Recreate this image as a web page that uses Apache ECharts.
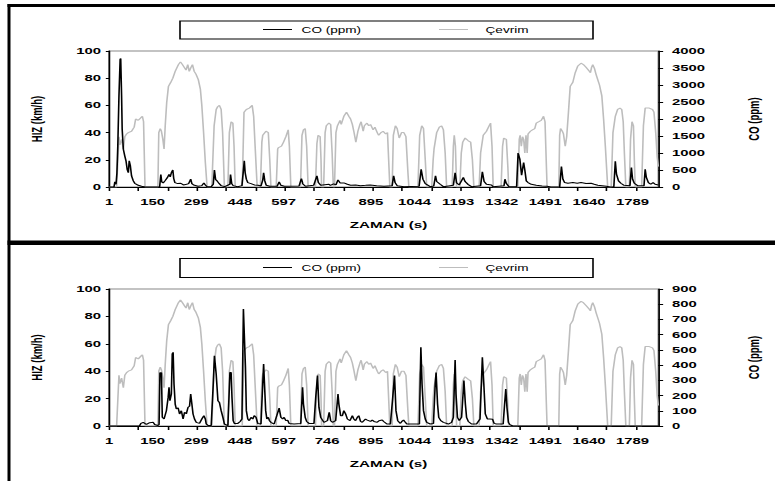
<!DOCTYPE html>
<html><head><meta charset="utf-8">
<script src="https://cdn.jsdelivr.net/npm/echarts@6/dist/echarts.min.js"></script>
<style>
html,body{margin:0;padding:0;background:#fff;overflow:hidden;}
#wrap{width:775px;height:481px;overflow:hidden;position:relative;background:#fff;}
#chart{width:485px;height:481px;transform:scaleX(1.597938);transform-origin:0 0;}
</style></head><body><div id="wrap"><div id="chart"></div></div>
<script>
// ---- data (time in s, values) ----
const xLabels = [1,150,299,448,597,746,895,1044,1193,1342,1491,1640,1789];
const speedLeftTicks = [0,20,40,60,80,100];
const coTopTicks = [0,500,1000,1500,2000,2500,3000,3500,4000];
const coBottomTicks = [0,100,200,300,400,500,600,700,800,900];

const speedCycle = [
[1,0],[27,0],[35,37],[38,31],[44,35],[50,28],[55,37],[61,39],[67,40],[78,41],[87,44],[92,50],[101,49],[110,51],[115,52],[119,48],[124,0],
[168,0],[171,40],[176,43],[180,41],[185,35],[189,28],[193,45],[198,62],[204,74],[212,77],[219,80],[227,85],[238,90],[245,92],[252,90],[258,88],[264,86],[270,90],[275,85],[281,88],[286,90],[292,85],[298,83],[306,79],[313,72],[318,60],[324,40],[330,18],[336,0],
[352,0],[360,45],[367,57],[372,59],[378,60],[384,57],[389,40],[395,0],
[407,0],[412,40],[418,48],[424,47],[428,30],[432,0],
[456,0],[462,55],[470,57],[480,58],[490,60],[495,52],[500,30],[507,0],
[518,0],[523,33],[526,38],[537,41],[545,40],[550,20],[554,0],
[572,0],[577,28],[580,29],[590,30],[597,33],[605,37],[613,42],[617,30],[622,0],
[655,0],[660,38],[665,42],[671,43],[676,30],[681,0],
[706,0],[711,32],[715,38],[722,37],[725,20],[727,0],
[734,0],[739,40],[743,45],[752,47],[758,46],[763,25],[767,0],
[771,0],[776,40],[781,45],[790,49],[794,46],[803,52],[812,55],[820,52],[826,50],[832,46],[837,41],[844,33],[851,41],[858,46],[862,48],[869,41],[873,45],[882,47],[888,45],[894,46],[903,42],[909,44],[917,40],[922,38],[930,40],[937,41],[946,39],[952,40],[956,20],[960,0],
[968,0],[972,38],[979,45],[985,43],[992,36],[1000,40],[1008,40],[1015,37],[1022,10],[1025,0],
[1056,0],[1062,38],[1069,45],[1075,43],[1081,20],[1086,0],
[1103,0],[1108,20],[1111,28],[1120,40],[1129,44],[1137,45],[1143,42],[1149,25],[1154,0],
[1173,0],[1177,30],[1180,38],[1184,30],[1188,0],
[1199,0],[1204,25],[1209,33],[1217,36],[1228,34],[1236,33],[1242,20],[1247,0],
[1265,0],[1270,25],[1279,38],[1290,41],[1299,45],[1304,47],[1309,30],[1313,0],
[1340,0],[1345,30],[1349,36],[1358,35],[1363,15],[1366,0],
[1397,0],[1402,35],[1405,38],[1409,30],[1413,37],[1417,35],[1421,25],[1425,38],[1429,25],[1432,39],[1440,41],[1447,42],[1455,43],[1460,47],[1469,48],[1477,49],[1485,52],[1490,48],[1494,20],[1497,0],
[1537,0],[1540,38],[1543,43],[1549,41],[1553,39],[1559,30],[1564,37],[1570,55],[1576,74],[1585,77],[1593,84],[1602,89],[1613,91],[1621,90],[1630,88],[1642,85],[1645,84],[1649,88],[1653,90],[1659,87],[1664,83],[1670,79],[1676,75],[1684,67],[1690,50],[1696,30],[1704,0],
[1716,0],[1722,40],[1730,52],[1738,57],[1746,58],[1752,57],[1757,48],[1761,25],[1766,0],
[1778,0],[1782,35],[1787,48],[1792,45],[1795,20],[1798,0],
[1820,0],[1826,45],[1832,58],[1846,58],[1857,57],[1862,55],[1868,40],[1873,22],[1877,15]
];

const coTop = [
[1,0],[18,0],[21,150],[25,80],[28,400],[31,1200],[35,2680],[39,3750],[41,3780],[44,2680],[46,1700],[50,1110],[55,910],[59,770],[63,520],[67,420],[70,770],[74,620],[78,325],[84,180],[89,110],[101,50],[112,20],[125,0],
[174,10],[178,370],[181,150],[186,120],[192,180],[200,270],[206,370],[210,300],[214,420],[219,500],[222,250],[226,130],[236,100],[246,110],[255,60],[266,80],[273,100],[280,230],[284,100],[290,60],[305,20],[318,40],[325,120],[330,60],[336,10],[350,5],[357,80],[361,500],[365,220],[370,180],[377,100],[384,40],[396,10],
[414,80],[416,370],[420,100],[425,40],[440,10],[455,40],[459,400],[463,770],[466,420],[470,230],[475,130],[486,100],[497,60],[510,50],[520,30],[526,200],[529,420],[533,180],[538,50],[550,20],[575,20],[582,150],[588,50],[600,20],[650,30],[658,250],[663,90],[672,20],[700,50],[711,330],[716,130],[724,50],[752,80],[757,50],[768,90],[776,60],[783,210],[790,120],[803,120],[815,80],[826,50],[843,60],[860,40],[877,50],[893,60],[915,40],[928,30],[940,20],
[968,40],[973,330],[978,130],[985,40],[1008,10],[1060,20],[1067,520],[1073,230],[1081,100],[1098,10],[1110,30],[1116,330],[1120,160],[1132,80],[1143,10],[1177,50],[1183,420],[1188,120],[1197,60],[1211,280],[1217,160],[1228,70],[1239,10],[1270,40],[1276,450],[1282,160],[1290,80],[1307,60],[1313,10],[1350,40],[1353,230],[1358,100],[1367,10],[1393,10],[1398,1000],[1404,820],[1410,350],[1417,720],[1421,500],[1426,180],[1432,130],[1443,80],[1460,50],[1480,30],[1497,20],[1510,0],
[1540,0],[1546,600],[1551,230],[1557,130],[1568,110],[1585,130],[1600,110],[1613,130],[1630,100],[1647,110],[1658,80],[1670,50],[1700,20],[1712,0],
[1725,10],[1730,760],[1734,380],[1741,180],[1749,110],[1760,50],[1780,40],[1785,570],[1789,230],[1795,110],[1806,40],[1828,40],[1832,520],[1836,280],[1843,130],[1851,80],[1859,130],[1866,80],[1877,60]
];

const coBottom = [
[1,0],[105,0],[110,17],[118,24],[129,10],[140,22],[152,24],[157,10],[168,3],[172,10],[175,350],[180,350],[183,57],[189,46],[197,100],[203,188],[206,254],[209,166],[214,210],[217,473],[220,484],[223,276],[227,144],[231,112],[237,120],[242,79],[248,100],[254,46],[259,90],[265,80],[271,123],[276,130],[280,210],[284,144],[288,79],[293,46],[299,24],[310,17],[318,46],[325,68],[330,46],[333,13],[339,4],[350,4],[357,276],[361,462],[367,341],[373,166],[378,155],[384,101],[390,57],[395,13],[407,2],[414,352],[418,352],[421,188],[425,35],[429,17],[441,17],[449,30],[455,46],[460,768],[463,769],[467,385],[470,101],[475,46],[480,35],[486,57],[492,46],[497,68],[503,57],[509,17],[520,13],[526,276],[529,407],[532,276],[536,101],[540,46],[545,57],[549,35],[554,24],[565,13],[582,118],[588,57],[594,46],[599,57],[605,35],[611,39],[616,17],[633,13],[656,17],[662,254],[665,144],[671,57],[676,30],[684,17],[701,17],[707,188],[713,331],[718,122],[724,57],[735,24],[747,35],[753,90],[758,35],[764,24],[775,35],[783,210],[786,144],[792,68],[798,68],[803,101],[809,79],[815,46],[824,35],[832,68],[837,46],[843,35],[849,57],[854,68],[860,30],[866,24],[877,46],[883,39],[894,30],[900,39],[906,30],[917,24],[923,35],[934,39],[939,30],[950,13],[962,13],[969,166],[976,331],[981,101],[987,35],[996,17],[1001,30],[1007,39],[1013,24],[1018,13],[1061,13],[1066,517],[1070,276],[1075,101],[1081,46],[1086,24],[1098,13],[1109,17],[1115,276],[1118,352],[1123,144],[1127,57],[1134,35],[1143,24],[1160,13],[1171,24],[1177,57],[1183,434],[1186,210],[1191,57],[1197,35],[1205,57],[1213,298],[1218,144],[1222,57],[1228,30],[1239,13],[1256,13],[1268,46],[1276,451],[1281,276],[1286,79],[1293,46],[1302,46],[1311,44],[1316,17],[1324,13],[1347,13],[1352,144],[1356,243],[1360,122],[1365,24],[1370,9],[1380,0],[1877,0]
];

// ---- layout helpers ----
const SX = 775 / 485;          // horizontal stretch of the reference
const ux = x => x / SX;        // reference x -> chart x
const FONT = "'Liberation Sans', Arial, sans-serif";
const GRAY = '#bdbdbd';
const xTickVals = [];
for (let v = 1; v <= 1877; v += 100) xTickVals.push(v);
const plain = v => String(v);

const gridLeft = ux(109), gridRight = 485 - ux(661);

function xAxisCfg(gi) {
  return {
    type: 'value', gridIndex: gi, min: 1, max: 1877,
    axisLine: { show: true, lineStyle: { color: '#000', width: 1 } },
    axisTick: { show: true, length: 4, lineStyle: { color: '#000' }, customValues: xTickVals },
    axisLabel: { customValues: xLabels, formatter: plain, color: '#000', fontFamily: FONT, fontWeight: 'bold', fontSize: 9.3, margin: 10 },
    splitLine: { show: false },
    name: 'ZAMAN (s)', nameLocation: 'middle', nameGap: 33,
    nameTextStyle: { color: '#000', fontFamily: FONT, fontWeight: 'bold', fontSize: 9.5, padding: [0, 0, 0, 6] }
  };
}
function yLeft(gi) {
  return {
    type: 'value', gridIndex: gi, position: 'left', min: speedLeftTicks[0], max: speedLeftTicks[speedLeftTicks.length - 1],
    interval: speedLeftTicks[1] - speedLeftTicks[0],
    axisLine: { show: true, lineStyle: { color: '#000' } },
    axisTick: { show: true, length: 2, lineStyle: { color: '#000' } },
    axisLabel: { formatter: plain, color: '#000', fontFamily: FONT, fontWeight: 'bold', fontSize: 9.3, margin: 5 },
    splitLine: { show: false },
    name: 'HIZ (km/h)', nameLocation: 'middle', nameRotate: 90, nameGap: 40,
    nameTextStyle: { color: '#000', fontFamily: FONT, fontWeight: 'bold', fontSize: 9.5 }
  };
}
function yRight(gi, ticks) {
  return {
    type: 'value', gridIndex: gi, position: 'right', min: ticks[0], max: ticks[ticks.length - 1],
    interval: ticks[1] - ticks[0],
    axisLine: { show: true, lineStyle: { color: '#000' } },
    axisTick: { show: true, length: 3, lineStyle: { color: '#000' } },
    axisLabel: { formatter: plain, color: '#000', fontFamily: FONT, fontWeight: 'bold', fontSize: 9.3, margin: 8.5 },
    splitLine: { show: false },
    name: 'CO (ppm)', nameLocation: 'middle', nameRotate: 90, nameGap: 55,
    nameTextStyle: { color: '#000', fontFamily: FONT, fontWeight: 'bold', fontSize: 9.5 }
  };
}
function line(name, xi, yi, data, color) {
  return { name, type: 'line', xAxisIndex: xi, yAxisIndex: yi, data, symbol: 'none',
    lineStyle: { color, width: 1 }, itemStyle: { color }, emphasis: { disabled: true } };
}
function legendCfg(name, x, top, padLeft) {
  return { data: [name], left: x, top, padding: 0, itemWidth: ux(29), itemHeight: 1,
    icon: 'rect', selectedMode: false,
    textStyle: { color: '#000', fontFamily: FONT, fontSize: 8.5, padding: [0, 0, 0, padLeft] } };
}

const chart = echarts.init(document.getElementById('chart'), null, { renderer: 'svg' });
chart.setOption({
  animation: false,
  backgroundColor: '#fff',
  grid: [
    { left: gridLeft, right: gridRight, top: 51, height: 136, show: true, borderColor: '#888', borderWidth: 1 },
    { left: gridLeft, right: gridRight, top: 289, height: 137, show: true, borderColor: '#888', borderWidth: 1 }
  ],
  xAxis: [xAxisCfg(0), xAxisCfg(1)],
  yAxis: [yLeft(0), yRight(0, coTopTicks), yLeft(1), yRight(1, coBottomTicks)],
  legend: [
    legendCfg('CO (ppm)', ux(263), 25, 1),
    legendCfg('Çevrim', ux(439), 25, 6),
    legendCfg('CO (ppm)', ux(263), 263, 1),
    legendCfg('Çevrim', ux(439), 263, 6)
  ],
  series: [
    line('Çevrim', 0, 0, speedCycle, GRAY),
    line('CO (ppm)', 0, 1, coTop, '#000'),
    line('Çevrim', 1, 2, speedCycle, GRAY),
    line('CO (ppm)', 1, 3, coBottom, '#000')
  ],
  graphic: [
    { type: 'rect', shape: { x: ux(7.5), y: 4, width: 490, height: 3 }, style: { fill: '#000' }, silent: true },
    { type: 'rect', shape: { x: ux(7.5), y: 4, width: ux(3), height: 480 }, style: { fill: '#000' }, silent: true },
    { type: 'rect', shape: { x: ux(7.5), y: 240.5, width: 490, height: 4.5 }, style: { fill: '#000' }, silent: true },
    { type: 'rect', shape: { x: ux(180), y: 21, width: ux(413), height: 18 }, style: { fill: 'none', stroke: '#000', lineWidth: 1 }, silent: true },
    { type: 'rect', shape: { x: ux(180), y: 258.5, width: ux(413), height: 19 }, style: { fill: 'none', stroke: '#000', lineWidth: 1 }, silent: true }
  ]
});
</script></body></html>
